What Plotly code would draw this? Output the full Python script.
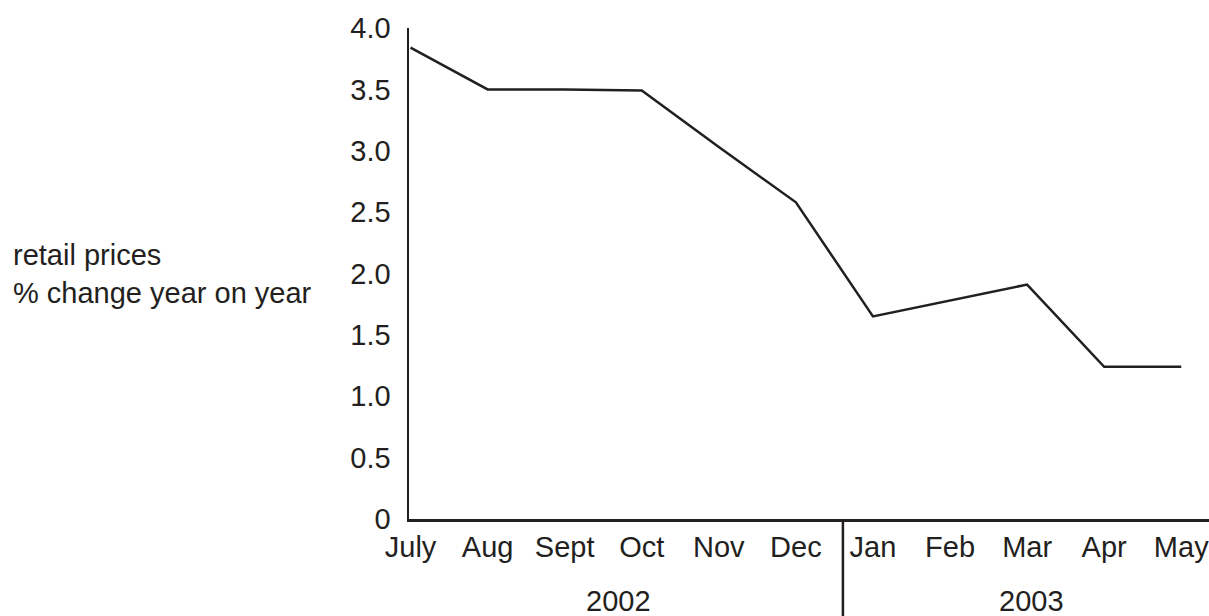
import plotly.graph_objects as go

months = ["July", "Aug", "Sept", "Oct", "Nov", "Dec", "Jan", "Feb", "Mar", "Apr", "May"]
retail_prices = [3.84, 3.50, 3.50, 3.49, 3.03, 2.58, 1.65, 1.78, 1.91, 1.24, 1.24]
y_ticks = [0, 0.5, 1.0, 1.5, 2.0, 2.5, 3.0, 3.5, 4.0]
y_ticktext = ["0", "0.5", "1.0", "1.5", "2.0", "2.5", "3.0", "3.5", "4.0"]
years = ["2002", "2003"]
y_label = "retail prices<br>% change year on year"

INK = "#231f20"
FONT = "Liberation Sans, Arial, Helvetica, sans-serif"
FS = 29

fig = go.Figure()
fig.add_trace(go.Scatter(
    x=months, y=retail_prices, mode="lines",
    line=dict(color=INK, width=2.5), showlegend=False, hoverinfo="skip",
))

fig.update_layout(
    width=1209, height=616,
    margin=dict(l=409, r=0, t=28, b=97),
    paper_bgcolor="white", plot_bgcolor="white",
    font=dict(family=FONT, size=FS, color=INK),
    xaxis=dict(
        type="category", range=[-0.02, 10.36],
        showline=True, linecolor=INK, linewidth=2.5,
        showgrid=False, zeroline=False, ticks="",
        ticklabelstandoff=1,
        tickfont=dict(family=FONT, size=FS, color=INK),
    ),
    yaxis=dict(
        range=[0, 4.0], tickvals=y_ticks, ticktext=y_ticktext,
        showline=True, linecolor=INK, linewidth=2.5,
        showgrid=False, zeroline=False, ticks="",
        ticklabelstandoff=10,
        tickfont=dict(family=FONT, size=FS, color=INK),
    ),
)

# year divider between Dec and Jan
fig.add_shape(type="line", xref="x", yref="paper",
              x0=5.61, x1=5.61, y0=0, y1=-0.25,
              line=dict(color=INK, width=2.5))

# year labels
fig.add_annotation(text=years[0], xref="x", yref="paper", x=2.7, y=-0.168,
                   showarrow=False, xanchor="center", yanchor="middle",
                   font=dict(family=FONT, size=FS, color=INK))
fig.add_annotation(text=years[1], xref="x", yref="paper", x=8.06, y=-0.168,
                   showarrow=False, xanchor="center", yanchor="middle",
                   font=dict(family=FONT, size=FS, color=INK))

# y-axis label at left
fig.add_annotation(text=y_label, xref="paper", yref="paper", x=-0.4975, y=0.5,
                   showarrow=False, xanchor="left", yanchor="middle", align="left",
                   font=dict(family=FONT, size=FS, color=INK))

fig.write_html(
    "out.html",
    config={"displayModeBar": False, "staticPlot": True},
    post_script="document.body.style.margin='0';"
                "document.body.style.overflow='hidden';"
                "document.documentElement.style.overflow='hidden';",
)
